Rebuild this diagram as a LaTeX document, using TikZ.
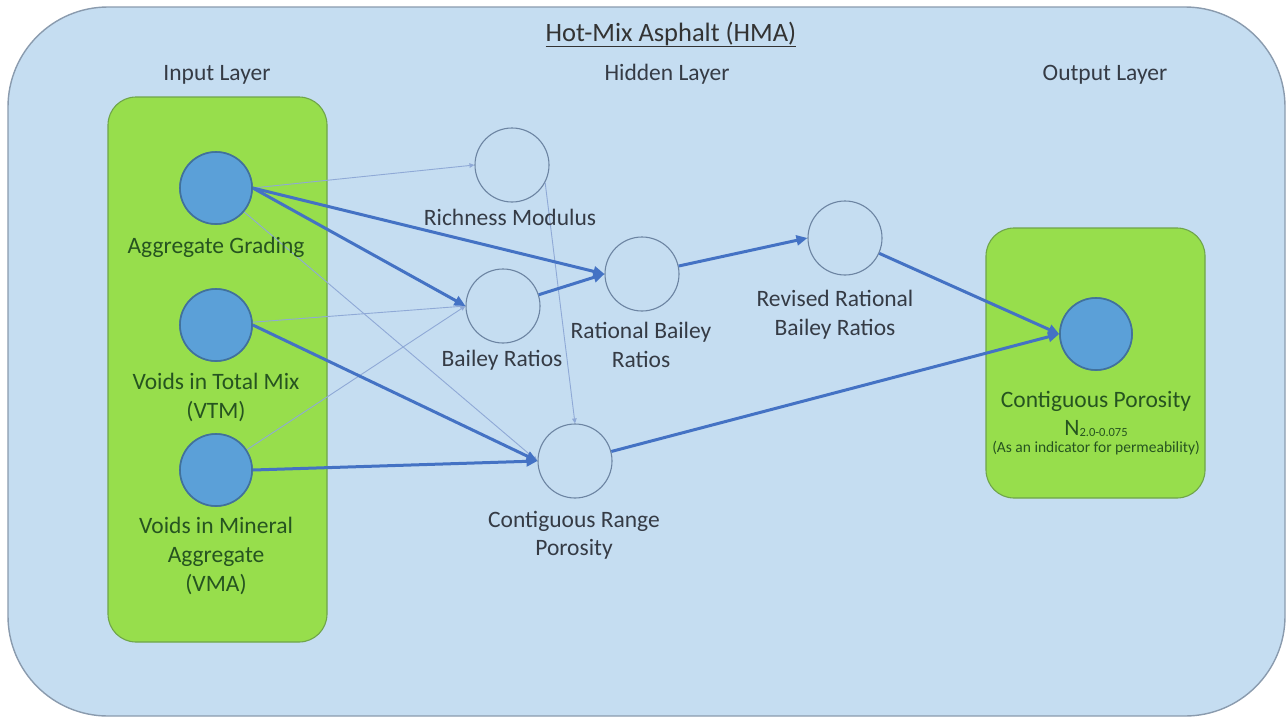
\documentclass[tikz,border=0pt]{standalone}
\usepackage{fontspec}
\setmainfont{Carlito}
\usetikzlibrary{arrows.meta}
\definecolor{bgblue}{HTML}{C5DDF1}
\definecolor{bgedge}{HTML}{8A9BAE}
\definecolor{lime}{HTML}{97DE4C}
\definecolor{limeedge}{HTML}{6FA54A}
\definecolor{dotfill}{HTML}{5BA0D8}
\definecolor{dotedge}{HTML}{41719C}
\definecolor{hidedge}{HTML}{6C84A2}
\definecolor{thickc}{HTML}{4472C4}
\definecolor{thinc}{HTML}{8FA9D6}
\definecolor{greentxt}{HTML}{265420}
\definecolor{graytxt}{HTML}{353B45}
\begin{document}
\begin{tikzpicture}[x=1pt,y=-1pt,
  lbl/.style={anchor=base,inner sep=0pt,font=\fontsize{23.5pt}{28pt}\selectfont},
  glbl/.style={lbl,text=greentxt},
  hlbl/.style={lbl,text=graytxt},
  inunit/.style={circle,fill=dotfill,draw=dotedge,line width=1.6pt,minimum size=72pt,inner sep=0pt},
  hidunit/.style={circle,draw=hidedge,line width=1.1pt,minimum size=74pt,inner sep=0pt},
  greenbox/.style={rectangle,rounded corners=28pt,fill=lime,draw=limeedge,line width=1.1pt,inner sep=0pt},
  thick arrow/.style={draw=thickc,line width=3pt,-{Triangle[length=11pt,width=10pt]}},
  thin arrow/.style={draw=thinc,line width=0.9pt,-{Triangle[length=5pt,width=4.5pt]}}
]
\useasboundingbox (0,0) rectangle (1287,718);
\fill[white] (0,0) rectangle (1287,718);
% outer container
\node (hma) [rectangle,rounded corners=100pt,fill=bgblue,draw=bgedge,line width=1.4pt,
  minimum width=1277pt,minimum height=709pt,inner sep=0pt] at (646.5,361.5) {};
\node (title) [lbl,text=black!80,font=\fontsize{26.5pt}{30pt}\selectfont] at (671,41) {\underline{Hot-Mix Asphalt (HMA)}};
\node (tin) [hlbl] at (217,80) {Input Layer};
\node (thid) [hlbl] at (667,80) {Hidden Layer};
\node (tout) [hlbl] at (1105,80) {Output Layer};
% green boxes
\node (inbox) [greenbox,minimum width=219pt,minimum height=545pt] at (217.5,369.5) {};
\node (outbox) [greenbox,minimum width=219pt,minimum height=270pt] at (1095.5,363) {};
% unit positions
\path (216,188) coordinate (pag) (216,325) coordinate (pvtm) (216,470) coordinate (pvma)
      (512,165) coordinate (prm) (503,306) coordinate (pbr) (642,274) coordinate (prb)
      (845,238) coordinate (prr) (575,461) coordinate (pcrp) (1096,334) coordinate (pout);
\node (ag) [inunit] at (pag) {};
\node (vtm) [inunit] at (pvtm) {};
\node (vma) [inunit] at (pvma) {};
\node (out) [inunit] at (pout) {};
\node (rm) [hidunit] at (prm) {};
\node (br) [hidunit] at (pbr) {};
\node (rb) [hidunit] at (prb) {};
\node (rr) [hidunit] at (prr) {};
\node (crp) [hidunit] at (pcrp) {};
% thin connectors
\draw[thin arrow] (ag.east) -- (rm.west);
\draw[thin arrow] (ag) -- (crp.west);
\draw[thin arrow] (vtm) -- (br.west);
\draw[thin arrow] (vma) -- (br.west);
\draw[thin arrow] (rm.-28) -- (crp.north);
% thick connectors
\draw[thick arrow] (ag.east) -- (rb.west);
\draw[thick arrow] (ag.east) -- (br.west);
\draw[thick arrow] (br) -- (rb.west);
\draw[thick arrow] (rb) -- (rr.west);
\draw[thick arrow] (rr) -- (out.west);
\draw[thick arrow] (vtm.east) -- (crp.west);
\draw[thick arrow] (vma.east) -- (crp.west);
\draw[thick arrow] (crp) -- (out.west);
% redraw input/output units on top of line ends
\node[inunit] at (pag) {};
\node[inunit] at (pvtm) {};
\node[inunit] at (pvma) {};
\node[inunit] at (pout) {};
% labels
\node (lag) [glbl] at (216,253) {Aggregate Grading};
\node (lvtm1) [glbl] at (216,389) {Voids in Total Mix};
\node (lvtm2) [glbl] at (216,418) {(VTM)};
\node (lvma1) [glbl] at (216,533) {Voids in Mineral};
\node (lvma2) [glbl] at (216,562) {Aggregate};
\node (lvma3) [glbl] at (216,591) {(VMA)};
\node (lrm) [hlbl] at (510,225) {Richness Modulus};
\node (lbr) [hlbl] at (502,366) {Bailey Ratios};
\node (lrb1) [hlbl] at (641,338) {Rational Bailey};
\node (lrb2) [hlbl] at (641,367) {Ratios};
\node (lrr1) [hlbl] at (835,306) {Revised Rational};
\node (lrr2) [hlbl] at (835,335) {Bailey Ratios};
\node (lcrp1) [hlbl] at (574,527) {Contiguous Range};
\node (lcrp2) [hlbl] at (574,555) {Porosity};
\node (lout1) [glbl] at (1096,407) {Contiguous Porosity};
\node (lout2) [glbl] at (1096,435) {N\raisebox{-1.5pt}{\fontsize{12.5pt}{13pt}\selectfont 2.0-0.075}};
\node (lout3) [glbl,font=\fontsize{15.5pt}{17pt}\selectfont] at (1096,452) {(As an indicator for permeability)};
\end{tikzpicture}
\end{document}
